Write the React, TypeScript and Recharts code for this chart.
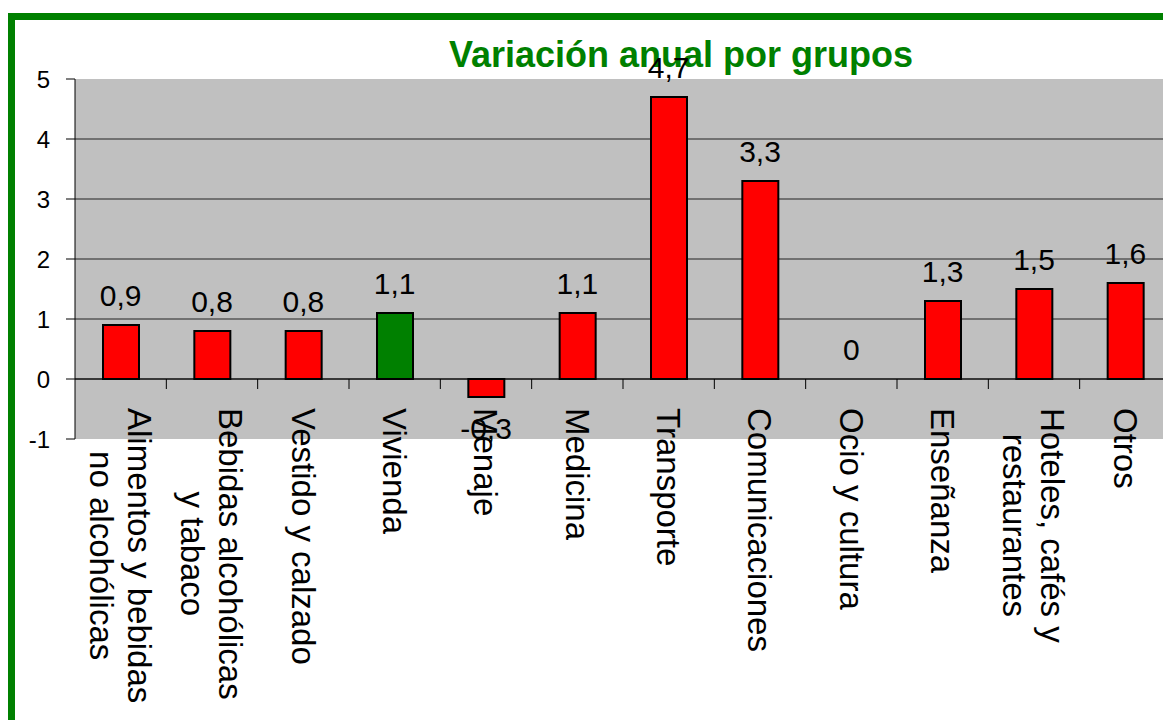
import React from 'react';
import { ComposedChart, Bar, Line, XAxis, YAxis, CartesianGrid, Cell, LabelList, ReferenceLine } from 'recharts';

const categories = [
  'Alimentos y bebidas\nno alcohólicas',
  'Bebidas alcohólicas\ny tabaco',
  'Vestido y calzado',
  'Vivienda',
  'Menaje',
  'Medicina',
  'Transporte',
  'Comunicaciones',
  'Ocio y cultura',
  'Enseñanza',
  'Hoteles, cafés y\nrestaurantes',
  'Otros',
];
const values = [0.9, 0.8, 0.8, 1.1, -0.3, 1.1, 4.7, 3.3, 0, 1.3, 1.5, 1.6];
const barColors = ['#FF0000', '#FF0000', '#FF0000', '#008000', '#FF0000', '#FF0000', '#FF0000', '#FF0000', '#FF0000', '#FF0000', '#FF0000', '#FF0000'];
const yTicks = [-1, 0, 1, 2, 3, 4, 5];
const title = 'Variación anual por grupos';

const data = categories.map((c, i) => ({ name: c, value: values[i], color: barColors[i] }));

const FONT = '"Liberation Sans", Arial, Helvetica, sans-serif';
const CHART_W = 1171;
const CHART_H = 720;
const Y_AXIS_W = 75;
const PLOT_TOP = 79;
const PLOT_BOTTOM = 439;
const PLOT_H = PLOT_BOTTOM - PLOT_TOP;
const BAND = (CHART_W - Y_AXIS_W) / categories.length;
const Y_MIN = yTicks[0];
const Y_MAX = yTicks[yTicks.length - 1];
const LABEL_FS = 33;
const LABEL_LH = 38;
const DATA_FS = 30;
const TICK_FS = 24;

let ctx: CanvasRenderingContext2D | null = null;
function measure(text: string, size: number): number {
  if (!ctx && typeof document !== 'undefined') {
    const c = document.createElement('canvas');
    ctx = c.getContext('2d');
  }
  if (ctx) {
    ctx.font = `${size}px "Liberation Sans", Arial, sans-serif`;
    return ctx.measureText(text).width;
  }
  return text.length * size * 0.5;
}

const CategoryTick = (props: any) => {
  const { x, y, payload, index } = props;
  const lines = String(payload.value).split('\n');
  const maxW = Math.max(...lines.map((l) => measure(l, LABEL_FS)));
  const zeroY = y - (PLOT_H * (0 - Y_MIN)) / (Y_MAX - Y_MIN);
  const startY = zeroY + 29;
  const capHalf = 0.358 * LABEL_FS;
  return (
    <g>
      {index < categories.length - 1 && (
        <line x1={x + BAND / 2} x2={x + BAND / 2} y1={zeroY} y2={zeroY + 10} stroke="#000" strokeWidth={1} />
      )}
      {lines.map((l, i) => {
        const bx = x + ((lines.length - 1) / 2 - i) * LABEL_LH - capHalf;
        return (
          <text
            key={i}
            transform={`translate(${bx},${startY + maxW / 2}) rotate(90)`}
            textAnchor="middle"
            fontSize={LABEL_FS}
            fontFamily={FONT}
            fill="#000"
          >
            {l}
          </text>
        );
      })}
    </g>
  );
};

const ValueLabel = (props: any) => {
  const { x, y, value } = props;
  const cy = value < 0 ? y + 31 : y - 30;
  return (
    <text
      x={x}
      y={cy + 0.358 * DATA_FS}
      textAnchor="middle"
      fontSize={DATA_FS}
      fontFamily={FONT}
      fill="#000"
    >
      {String(value).replace('.', ',')}
    </text>
  );
};

const gridLine = (props: any) => {
  const { x1, x2, y1, y2, index } = props;
  if (Math.abs(y1 - PLOT_TOP) < 1 || Math.abs(y1 - PLOT_BOTTOM) < 1) return <g key={`g-${index}`} />;
  return <line key={`l-${index}`} x1={x1} x2={x2} y1={y1} y2={y2} stroke="#222" strokeWidth={1} />;
};

export default function App() {
  return (
    <div style={{ position: 'fixed', left: 0, top: 0, width: 1163, height: 720, overflow: 'hidden', background: '#fff' }}>
      <div
        style={{
          position: 'absolute',
          left: 8,
          top: 13,
          width: 1300,
          height: 900,
          borderLeft: '7px solid #008000',
          borderTop: '7px solid #008000',
          boxSizing: 'border-box',
        }}
      />
      <svg style={{ position: 'absolute', left: 0, top: 0 }} width={1163} height={100}>
        <text x={681} y={67} textAnchor="middle" fontSize={36} fontWeight="bold" fontFamily={FONT} fill="#008000">
          {title}
        </text>
      </svg>
      <div style={{ position: 'absolute', left: 0, top: 0 }}>
        <ComposedChart
          width={CHART_W}
          height={CHART_H}
          data={data}
          margin={{ top: PLOT_TOP, right: 0, left: 0, bottom: 0 }}
          barCategoryGap={0}
        >
          <CartesianGrid fill="#C0C0C0" vertical={false} horizontal={gridLine} stroke="#222" />
          <YAxis
            type="number"
            domain={[Y_MIN, Y_MAX]}
            ticks={yTicks}
            interval={0}
            width={Y_AXIS_W}
            tickSize={9}
            tickMargin={16}
            axisLine={{ stroke: '#000', strokeWidth: 1 }}
            tickLine={{ stroke: '#000', strokeWidth: 1 }}
            tick={{ fill: '#000', fontSize: TICK_FS, fontFamily: FONT }}
          />
          <XAxis
            dataKey="name"
            interval={0}
            height={CHART_H - PLOT_BOTTOM}
            axisLine={false}
            tickLine={false}
            tickSize={0}
            tickMargin={0}
            tick={<CategoryTick />}
          />
          <ReferenceLine y={0} stroke="#000" strokeWidth={1} />
          <Bar dataKey="value" barSize={36} stroke="#000" strokeWidth={2} isAnimationActive={false}>
            {data.map((d, i) => (
              <Cell key={i} fill={d.color} />
            ))}
          </Bar>
          <Line
            dataKey="value"
            stroke="none"
            dot={false}
            activeDot={false}
            legendType="none"
            isAnimationActive={false}
          >
            <LabelList dataKey="value" content={<ValueLabel />} />
          </Line>
        </ComposedChart>
      </div>
    </div>
  );
}
